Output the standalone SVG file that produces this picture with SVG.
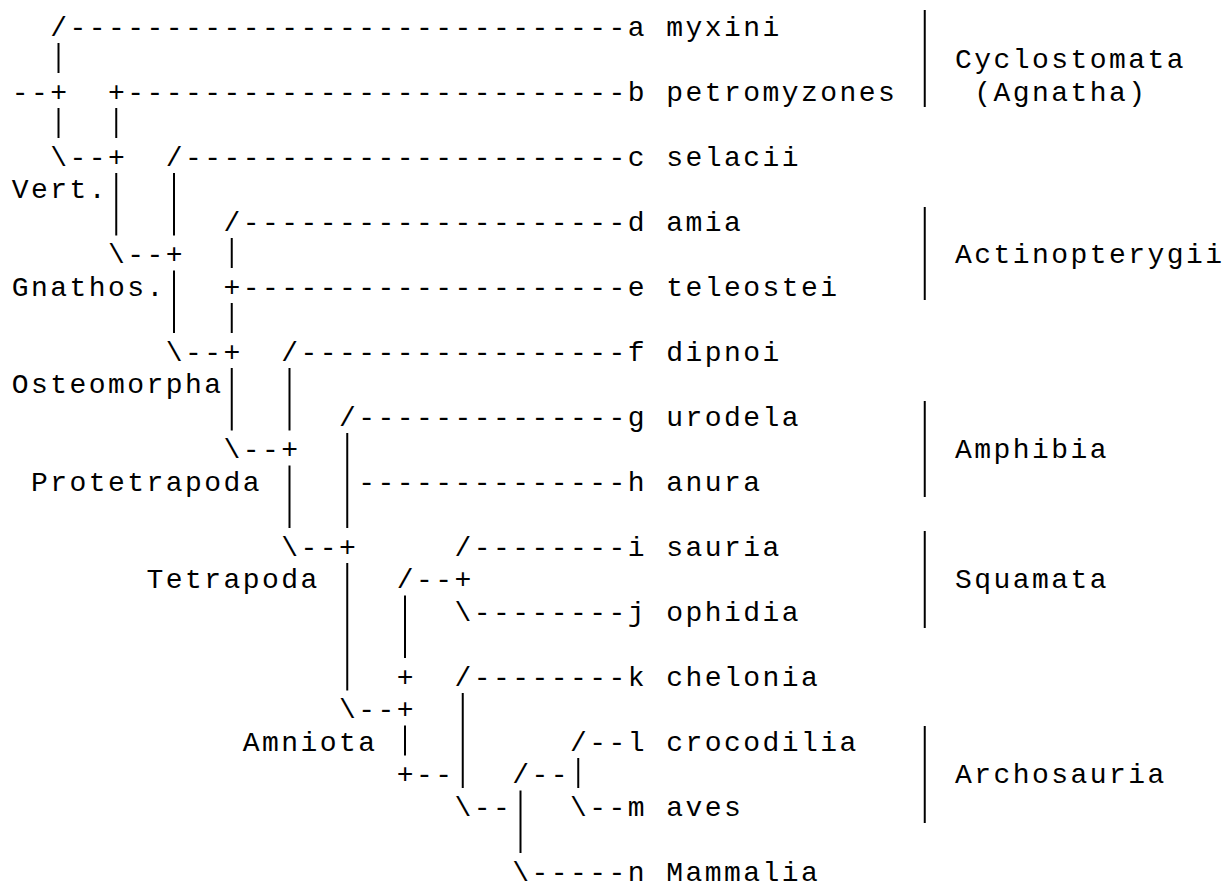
<svg xmlns="http://www.w3.org/2000/svg" width="1224" height="890" viewBox="0 0 1224 890">
<style>
text{font-family:"Liberation Mono","DejaVu Sans Mono",monospace;font-size:28px;letter-spacing:2.45px;fill:#000}
.v{stroke:#000;stroke-width:2}
.bar{stroke:#000;stroke-width:2}
</style>
<rect width="1224" height="890" fill="#fff"/>
<g id="connectors">
<text x="50.13" y="35.5">/-----------------------------</text>
<text x="11.63" y="100.5">--+</text><text x="107.88" y="100.5">+--------------------------</text>
<text x="50.13" y="165.5">\--+</text><text x="165.63" y="165.5">/-----------------------</text>
<text x="223.38" y="230.5">/--------------------</text>
<text x="107.88" y="263">\--+</text>
<text x="223.38" y="295.5">+--------------------</text>
<text x="165.63" y="360.5">\--+</text><text x="281.13" y="360.5">/-----------------</text>
<text x="338.88" y="425.5">/--------------</text>
<text x="223.38" y="458">\--+</text>
<text x="358.13" y="490.5">--------------</text>
<text x="281.13" y="555.5">\--+</text><text x="454.38" y="555.5">/--------</text>
<text x="396.63" y="588">/--+</text>
<text x="454.38" y="620.5">\--------</text>
<text x="396.63" y="685.5">+</text><text x="454.38" y="685.5">/--------</text>
<text x="338.88" y="718">\--+</text>
<text x="569.88" y="750.5">/--</text>
<text x="396.63" y="783">+--</text><text x="512.13" y="783">/--</text>
<text x="454.38" y="815.5">\--</text><text x="569.88" y="815.5">\--</text>
<text x="512.13" y="880.5">\-----</text>
<line class="v" x1="58.5" y1="43" x2="58.5" y2="73"/>
<line class="v" x1="58.5" y1="108" x2="58.5" y2="138"/>
<line class="v" x1="116.25" y1="108" x2="116.25" y2="138"/>
<line class="v" x1="116.25" y1="173" x2="116.25" y2="235.5"/>
<line class="v" x1="174" y1="173" x2="174" y2="235.5"/>
<line class="v" x1="174" y1="270.5" x2="174" y2="333"/>
<line class="v" x1="231.75" y1="238" x2="231.75" y2="268"/>
<line class="v" x1="231.75" y1="303" x2="231.75" y2="333"/>
<line class="v" x1="231.75" y1="368" x2="231.75" y2="430.5"/>
<line class="v" x1="289.5" y1="368" x2="289.5" y2="430.5"/>
<line class="v" x1="289.5" y1="465.5" x2="289.5" y2="528"/>
<line class="v" x1="347.25" y1="433" x2="347.25" y2="528"/>
<line class="v" x1="347.25" y1="563" x2="347.25" y2="690.5"/>
<line class="v" x1="405" y1="595.5" x2="405" y2="658"/>
<line class="v" x1="405" y1="725.5" x2="405" y2="755.5"/>
<line class="v" x1="462.75" y1="693" x2="462.75" y2="788"/>
<line class="v" x1="520.5" y1="790.5" x2="520.5" y2="853"/>
<line class="v" x1="578.25" y1="758" x2="578.25" y2="788"/>
</g>
<g id="leaf-a"><text x="627.63" y="35.5">a myxini</text></g>
<g id="leaf-b"><text x="627.63" y="100.5">b petromyzones</text></g>
<g id="leaf-c"><text x="627.63" y="165.5">c selacii</text></g>
<g id="leaf-d"><text x="627.63" y="230.5">d amia</text></g>
<g id="leaf-e"><text x="627.63" y="295.5">e teleostei</text></g>
<g id="leaf-f"><text x="627.63" y="360.5">f dipnoi</text></g>
<g id="leaf-g"><text x="627.63" y="425.5">g urodela</text></g>
<g id="leaf-h"><text x="627.63" y="490.5">h anura</text></g>
<g id="leaf-i"><text x="627.63" y="555.5">i sauria</text></g>
<g id="leaf-j"><text x="627.63" y="620.5">j ophidia</text></g>
<g id="leaf-k"><text x="627.63" y="685.5">k chelonia</text></g>
<g id="leaf-l"><text x="627.63" y="750.5">l crocodilia</text></g>
<g id="leaf-m"><text x="627.63" y="815.5">m aves</text></g>
<g id="leaf-n"><text x="627.63" y="880.5">n Mammalia</text></g>
<g id="clade-vert"><text x="11.63" y="198">Vert.</text></g>
<g id="clade-gnathos"><text x="11.63" y="295.5">Gnathos.</text></g>
<g id="clade-osteomorpha"><text x="11.63" y="393">Osteomorpha</text></g>
<g id="clade-protetrapoda"><text x="30.88" y="490.5">Protetrapoda</text></g>
<g id="clade-tetrapoda"><text x="146.38" y="588">Tetrapoda</text></g>
<g id="clade-amniota"><text x="242.63" y="750.5">Amniota</text></g>
<g id="group-cyclostomata"><line class="bar" x1="924.75" y1="10" x2="924.75" y2="107"/><text x="954.88" y="68">Cyclostomata</text><text x="974.13" y="100.5">(Agnatha)</text></g>
<g id="group-actinopterygii"><line class="bar" x1="924.75" y1="207" x2="924.75" y2="300"/><text x="954.88" y="263">Actinopterygii</text></g>
<g id="group-amphibia"><line class="bar" x1="924.75" y1="401" x2="924.75" y2="497"/><text x="954.88" y="458">Amphibia</text></g>
<g id="group-squamata"><line class="bar" x1="924.75" y1="531" x2="924.75" y2="628"/><text x="954.88" y="588">Squamata</text></g>
<g id="group-archosauria"><line class="bar" x1="924.75" y1="726" x2="924.75" y2="823"/><text x="954.88" y="783">Archosauria</text></g>
</svg>
